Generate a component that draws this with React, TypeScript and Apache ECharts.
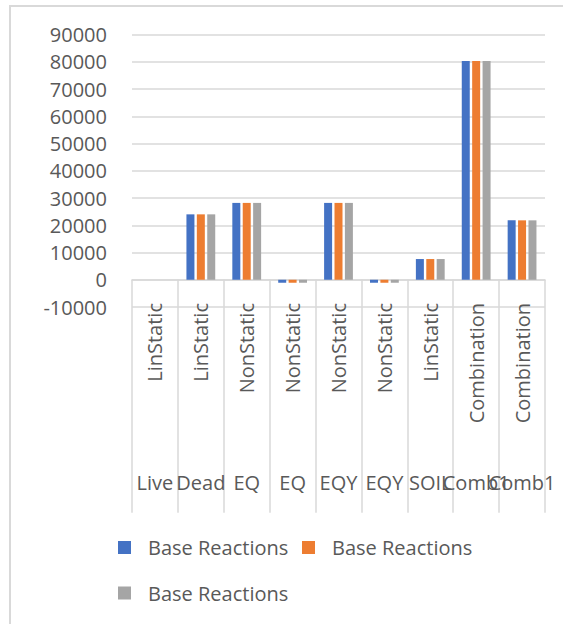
import React, { useEffect, useRef } from "react";
import * as echarts from "echarts";

const caseNames = ["Live", "Dead", "EQ", "EQ", "EQY", "EQY", "SOIL", "Comb1", "Comb1"];
const stepTypes = ["LinStatic", "LinStatic", "NonStatic", "NonStatic", "NonStatic", "NonStatic", "LinStatic", "Combination", "Combination"];
const seriesLabels = ["Base Reactions", "Base Reactions", "Base Reactions"];
const series1 = [0, 24000, 28200, -1100, 28200, -1100, 7600, 80300, 21800];
const series2 = [0, 24000, 28200, -1100, 28200, -1100, 7600, 80300, 21800];
const series3 = [0, 24000, 28200, -1100, 28200, -1100, 7600, 80300, 21800];
const seriesColors = ["#4472C4", "#ED7D31", "#A5A5A5"];
const yMin = -10000;
const yMax = 90000;
const yStep = 10000;

const FONT = "'Open Sans', 'Noto Sans', sans-serif";
const TEXT = "#595959";
const LINE = "#d9d9d9";

export default function App() {
  const ref = useRef<HTMLDivElement>(null);
  useEffect(() => {
    if (!ref.current) return;
    const chart = echarts.init(ref.current, null, { renderer: "svg" });
    const data = [series1, series2, series3];
    const ids = ["s1", "s2", "s3"];
    const legendPos = [
      { left: 118, top: 537.5 },
      { left: 302, top: 537.5 },
      { left: 118, top: 583 },
    ];
    chart.setOption({
      animation: false,
      textStyle: { fontFamily: FONT },
      graphic: [
        {
          type: "rect",
          shape: { x: 10, y: 6, width: 700, height: 700 },
          style: { fill: "none", stroke: LINE, lineWidth: 2 },
          silent: true,
        },
      ],
      legend: ids.map((id, i) => ({
        data: [id],
        left: legendPos[i].left,
        top: legendPos[i].top,
        padding: 0,
        itemWidth: 13,
        itemHeight: 13,
        icon: "rect",
        selectedMode: false,
        formatter: () => seriesLabels[i],
        textStyle: {
          fontSize: 20,
          fontFamily: FONT,
          color: TEXT,
          padding: [0, 0, 0, 12],
        },
      })),
      grid: {
        left: 132,
        right: 18,
        top: 34.5,
        bottom: 317,
        containLabel: false,
        outerBoundsMode: "none",
      },
      xAxis: [
        {
          type: "category",
          data: caseNames,
          position: "bottom",
          axisLine: { show: true, onZero: true, lineStyle: { color: LINE, width: 1.5 } },
          axisTick: { show: true, interval: 0, length: 233, lineStyle: { color: LINE, width: 1.5 } },
          axisLabel: {
            interval: 0,
            rotate: 90,
            margin: -4,
            fontSize: 20,
            fontFamily: FONT,
            color: TEXT,
            formatter: (_v: string, idx: number) => stepTypes[idx],
          },
          splitLine: { show: false },
        },
        {
          type: "category",
          data: caseNames,
          position: "bottom",
          axisLine: { show: false, onZero: false },
          axisTick: { show: false },
          axisLabel: {
            interval: 0,
            margin: 165,
            fontSize: 20,
            fontFamily: FONT,
            color: TEXT,
            hideOverlap: false,
          },
          splitLine: { show: false },
        },
      ],
      yAxis: {
        type: "value",
        min: yMin,
        max: yMax,
        interval: yStep,
        axisLine: { show: false },
        axisTick: { show: false },
        axisLabel: {
          fontSize: 20,
          fontFamily: FONT,
          color: TEXT,
          margin: 25,
          formatter: (v: number) => String(v),
        },
        splitLine: { lineStyle: { color: LINE, width: 1.5 } },
      },
      series: ids.map((id, i) => ({
        type: "bar",
        name: id,
        xAxisIndex: 0,
        data: data[i],
        barWidth: 8,
        barGap: "30%",
        itemStyle: { color: seriesColors[i] },
      })),
    });
    return () => chart.dispose();
  }, []);
  return (
    <div
      ref={ref}
      style={{ position: "absolute", left: 0, top: 0, width: 563, height: 624 }}
    />
  );
}
